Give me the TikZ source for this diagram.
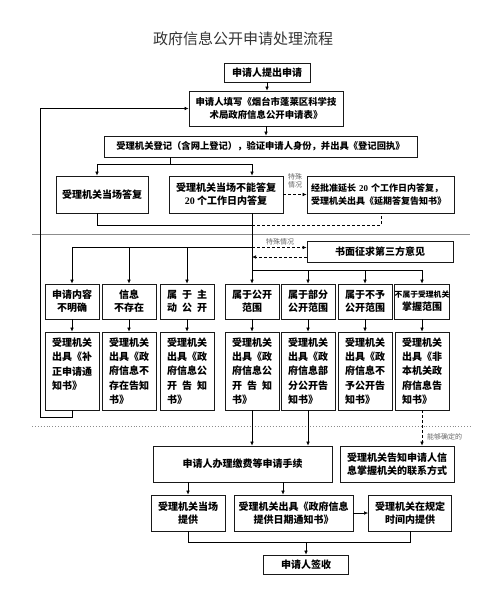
\documentclass[tikz,border=0pt]{standalone}
\usepackage{fontspec}
\setmainfont{Noto Sans CJK SC}
\newfontfamily\tms{Liberation Serif}
\usetikzlibrary{arrows.meta,calc}
\begin{document}
\begin{tikzpicture}[x=1pt,y=-1pt,
 box/.style={draw=black!90,line width=0.8pt,fill=white,align=center,inner sep=0pt,
   font=\bfseries\fontsize{10}{13}\selectfont},
 tall/.style={box,minimum width=54pt,minimum height=78pt,text width=40pt,align=left,
   font=\bfseries\fontsize{10}{14.4}\selectfont},
 row/.style={box,minimum width=54pt,minimum height=35pt},
 tip/.style={-{Latex[length=4pt,width=3.6pt]}},
 arr/.style={tip,line width=0.6pt},
 ln/.style={line width=0.6pt},
 dsh/.style={line width=0.6pt,dash pattern=on 3pt off 2pt},
 lbl/.style={font=\fontsize{7}{8}\selectfont,text=black!60,align=center,inner sep=0pt}]
\useasboundingbox (0,0) rectangle (500,610);

\node[font=\fontsize{15}{17}\selectfont,text=black!80] (title) at (243,39) {政府信息公开申请处理流程};

\node[box,minimum width=86pt,minimum height=19pt] (start) at (267,72.5) {申请人提出申请};
\node[box,minimum width=154pt,minimum height=35pt,font=\bfseries\fontsize{9.4}{13}\selectfont] (fill) at (266,108.5)
  {申请人填写《烟台市蓬莱区科学技\\术局政府信息公开申请表》};
\node[box,minimum width=313pt,minimum height=21pt,font=\bfseries\fontsize{9.3}{12}\selectfont] (reg) at (260.5,146.5)
  {受理机关登记（含网上登记），验证申请人身份，并出具《登记回执》};

\node[box,minimum width=92pt,minimum height=37pt] (A) at (102,194.5) {受理机关当场答复};
\node[box,minimum width=114pt,minimum height=37pt] (B) at (226,194.5) {受理机关当场不能答复\\{\tms 20} 个工作日内答复};
\node[box,minimum width=147pt,minimum height=37pt,text width=139pt,align=left,
  font=\bfseries\fontsize{9}{13}\selectfont] (C) at (380.5,194.5)
  {经批准延长 {\tms 20} 个工作日内答复，\\受理机关出具《延期答复告知书》};

\node[box,minimum width=146pt,minimum height=21pt] (D) at (380,251.5) {书面征求第三方意见};

% row 1
\node[row] (L1) at (72,301.5) {申请内容\\不明确};
\node[row] (L2) at (129,301.5) {信息\\不存在};
\node[row] (L3) at (187,301.5) {属\hspace{5pt}于\hspace{5pt}主\\动\hspace{5pt}公\hspace{5pt}开};
\node[row] (R1) at (252,301.5) {属于公开\\范围};
\node[row] (R2) at (308,301.5) {属于部分\\公开范围};
\node[row] (R3) at (365,301.5) {属于不予\\公开范围};
\node[row] (R4) at (422,301.5) {{\fontsize{7.8}{9}\selectfont 不属于受理机关}\\掌握范围};

% row 2
\node[tall] (L1b) at (72,371) {受理机关\\出具《补\\正申请通\\知书》\\~};
\node[tall] (L2b) at (129,371) {受理机关\\出具《政\\府信息不\\存在告知\\书》};
\node[tall] (L3b) at (187,371) {受理机关\\出具《政\\府信息公\\开\hspace{5pt}告\hspace{5pt}知\\书》};
\node[tall] (R1b) at (252,371) {受理机关\\出具《政\\府信息公\\开\hspace{5pt}告\hspace{5pt}知\\书》};
\node[tall] (R2b) at (308,371) {受理机关\\出具《政\\府信息部\\分公开告\\知书》};
\node[tall] (R3b) at (365,371) {受理机关\\出具《政\\府信息不\\予公开告\\知书》};
\node[tall] (R4b) at (422,371) {受理机关\\出具《非\\本机关政\\府信息告\\知书》};

% bottom part
\node[box,minimum width=179pt,minimum height=36pt] (pay) at (242.5,464) {申请人办理缴费等申请手续};
\node[box,minimum width=114pt,minimum height=36pt] (inform) at (397,464) {受理机关告知申请人信\\息掌握机关的联系方式};
\node[box,minimum width=74pt,minimum height=36pt] (P1) at (188,513) {受理机关当场\\提供};
\node[box,minimum width=119pt,minimum height=36pt] (P2) at (293.5,513) {受理机关出具《政府信息\\提供日期通知书》};
\node[box,minimum width=83pt,minimum height=36pt] (P3) at (410,513) {受理机关在规定\\时间内提供};
\node[box,minimum width=85pt,minimum height=19pt] (sign) at (306,564.5) {申请人签收};

% separators
\draw[black!45,line width=0.6pt] (32,234) -- (470,234);
\draw[black!45,line width=0.9pt,dotted] (32,426) -- (470,426);

% coordinates
\coordinate (j1) at (170,164);
\coordinate (ax) at (97,0);
\coordinate (sp) at (252,0);
\coordinate (cx) at (381,0);
\coordinate (j2) at (252,225);
\coordinate (h1) at (252,247.5);
\coordinate (h2) at (252,270);
\coordinate (lp) at (40,417);
\coordinate (p2x) at (283,0);
\coordinate (j3) at (306,542);

% connectors
\draw[arr] (start.south) -- (start.south |- fill.north);
\draw[arr] (fill.south) -- (fill.south |- reg.north);
\draw[ln] (reg.south -| j1) -- (j1);
\draw[arr] (j1) -| (ax |- A.north);
\draw[arr] (j1) -| (sp |- B.north);
\draw[dsh,tip] (B.east) -- (C.west);
\node[lbl] at (295,181) {特殊\\情况};
\draw[ln] (ax |- A.south) |- (j2);
\draw[dsh] (j2) -| (cx |- C.south);
\draw[arr] (sp |- B.south) -- (R1.north);
\draw[ln] (h1) -- (L1.north |- h1);
\draw[arr] (L1.north |- h1) -- (L1.north);
\draw[arr] (L2.north |- h1) -- (L2.north);
\draw[arr] (L3.north |- h1) -- (L3.north);
\draw[dsh,tip] (h1) -- (D.west |- h1);
\draw[dsh,tip] (D.west |- 0,257) -- (sp |- 0,257);
\node[lbl] at (280,242) {特殊情况};
\draw[ln] (h2) -- (R4.north |- h2);
\draw[arr] (R2.north |- h2) -- (R2.north);
\draw[arr] (R3.north |- h2) -- (R3.north);
\draw[arr] (R4.north |- h2) -- (R4.north);

\foreach \a/\b in {L1/L1b,L2/L2b,L3/L3b,R1/R1b,R2/R2b,R3/R3b,R4/R4b}
  \draw[arr] (\a.south) -- (\b.north);

\draw[arr] (L1b.south) |- (lp) |- (fill.west);

\draw[arr] (R1b.south) -- (R1b.south |- pay.north);
\draw[arr] (R2b.south) -- (R2b.south |- pay.north);
\draw[dsh,tip] (R4b.south) -- (R4b.south |- inform.north);
\node[lbl,anchor=west] at (427,437) {能够确定的};

\draw[arr] (P1.north |- pay.south) -- (P1.north);
\draw[arr] (p2x |- pay.south) -- (p2x |- P2.north);
\draw[arr] (P2.east) -- (P3.west);
\draw[ln] (P1.south) |- (j3);
\draw[ln] (P3.south) |- (j3);
\draw[arr] (j3) -- (sign.north);
\end{tikzpicture}
\end{document}
